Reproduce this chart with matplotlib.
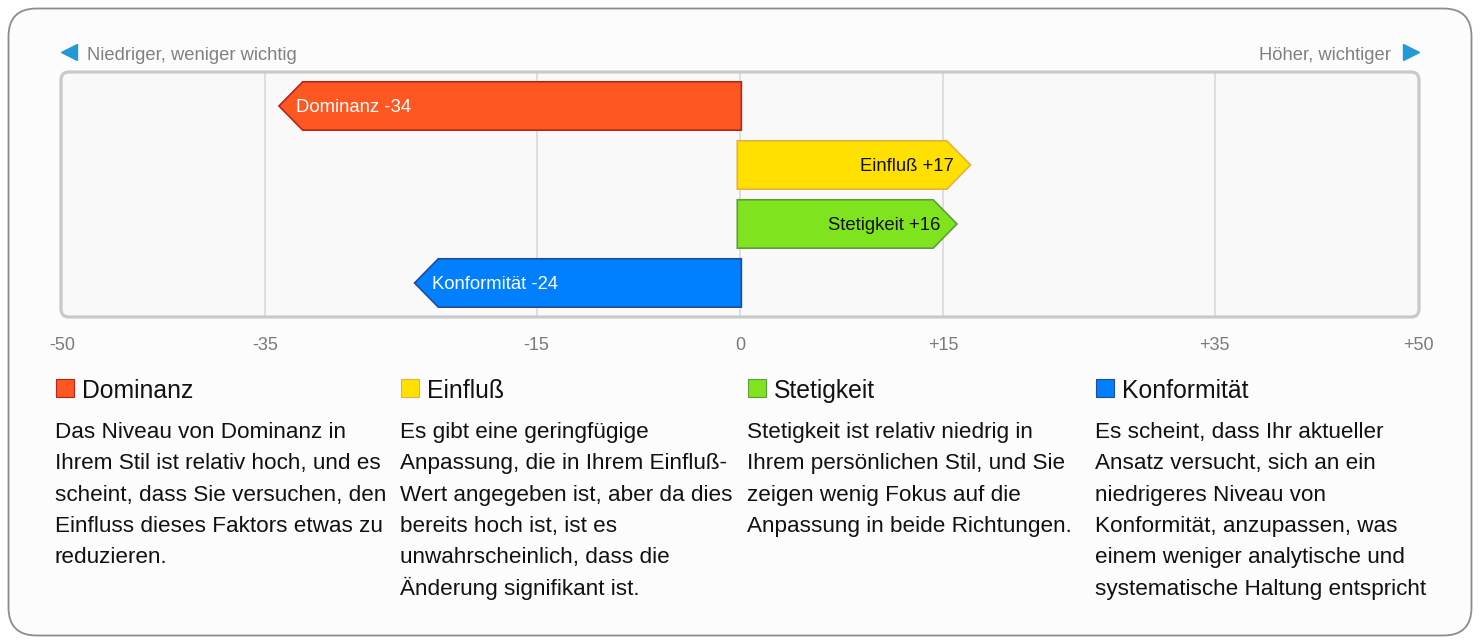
import matplotlib
matplotlib.use("Agg")
import matplotlib.pyplot as plt
from matplotlib.patches import FancyBboxPatch, Polygon, Rectangle

plt.rcParams['font.family'] = ['Liberation Sans', 'DejaVu Sans']

# ---------------- data ----------------
categories = ["Dominanz", "Einfluß", "Stetigkeit", "Konformität"]
values = [-34, 17, 16, -24]
fill_colors = ["#FF5722", "#FFE000", "#7FE41D", "#0080FF"]
edge_colors = ["#B3261A", "#E9B13C", "#5E9E3C", "#1F4C9C"]
label_colors = ["white", "#111111", "#111111", "white"]
tick_values = [-50, -35, -15, 0, 15, 35, 50]
tick_labels = ["-50", "-35", "-15", "0", "+15", "+35", "+50"]
grid_values = [-35, -15, 0, 15, 35]
left_caption = "Niedriger, weniger wichtig"
right_caption = "Höher, wichtiger"
descriptions = [
    ["Das Niveau von Dominanz in", "Ihrem Stil ist relativ hoch, und es",
     "scheint, dass Sie versuchen, den", "Einfluss dieses Faktors etwas zu",
     "reduzieren."],
    ["Es gibt eine geringfügige", "Anpassung, die in Ihrem Einfluß-",
     "Wert angegeben ist, aber da dies", "bereits hoch ist, ist es",
     "unwahrscheinlich, dass die", "Änderung signifikant ist."],
    ["Stetigkeit ist relativ niedrig in", "Ihrem persönlichen Stil, und Sie",
     "zeigen wenig Fokus auf die", "Anpassung in beide Richtungen."],
    ["Es scheint, dass Ihr aktueller", "Ansatz versucht, sich an ein",
     "niedrigeres Niveau von", "Konformität, anzupassen, was",
     "einem weniger analytische und", "systematische Haltung entspricht"],
]

W, H = 1480, 644
fig = plt.figure(figsize=(W / 100, H / 100), dpi=100)
fig.patch.set_facecolor("white")

# background axes in pixel coordinates
bg = fig.add_axes([0, 0, 1, 1], zorder=0)
bg.set_xlim(0, W)
bg.set_ylim(H, 0)
bg.axis("off")
bg.add_patch(FancyBboxPatch((8.5, 8.5), 1463, 627, boxstyle="round,pad=0,rounding_size=28",
                            facecolor="#fcfcfc", edgecolor="#8c8c8c", linewidth=1.3))
PL, PR, PT, PB = 61, 1419, 72, 317
bg.add_patch(FancyBboxPatch((PL, PT), PR - PL, PB - PT, boxstyle="round,pad=0,rounding_size=8",
                            facecolor="#f9f9f9", edgecolor="none"))

# main axes
ax = fig.add_axes([62 / W, 1 - 316 / H, (1418 - 62) / W, (316 - 72) / H], zorder=1)
ax.set_facecolor("none")
ax.set_xlim(-50, 50)
ax.set_ylim(3.56, -0.576)
for s in ax.spines.values():
    s.set_visible(False)
ax.set_yticks([])
ax.set_xticks(tick_values)
ax.set_xticklabels(tick_labels)
ax.tick_params(axis="x", length=0, pad=15, labelsize=13, labelcolor="#7a7a7a")
for g in grid_values:
    ax.axvline(g, color="#d9d9d9", linewidth=1.2, zorder=1)

half_h = 0.41
head = 1.75
for i, (cat, v) in enumerate(zip(categories, values)):
    sgn = 1 if v > 0 else -1
    base = -0.2 if v > 0 else 0.1
    pts = [(base, i - half_h), (v - sgn * head, i - half_h), (v, i),
           (v - sgn * head, i + half_h), (base, i + half_h)]
    ax.add_patch(Polygon(pts, closed=True, facecolor=fill_colors[i],
                         edgecolor=edge_colors[i], linewidth=1.2, zorder=3))
    lbl = f"{cat} {'+' if v > 0 else ''}{v}"
    ax.text(v - sgn * 1.25, i + 0.1, lbl, ha="right" if v > 0 else "left",
            va="baseline", fontsize=13.3, color=label_colors[i], zorder=4)

# overlay axes for border and texts
ov = fig.add_axes([0, 0, 1, 1], zorder=2)
ov.set_xlim(0, W)
ov.set_ylim(H, 0)
ov.axis("off")
ov.set_facecolor("none")
ov.add_patch(FancyBboxPatch((PL, PT), PR - PL, PB - PT, boxstyle="round,pad=0,rounding_size=8",
                            facecolor="none", edgecolor="#c9c9c9", linewidth=2.3))

ov.plot([69], [52], marker="<", markersize=11, color="#2299D6", linestyle="none")
ov.text(87, 60, left_caption, ha="left", va="baseline", fontsize=13.2, color="#808080")
ov.plot([1411], [52], marker=">", markersize=11, color="#2299D6", linestyle="none")
ov.text(1391, 60, right_caption, ha="right", va="baseline", fontsize=13.2, color="#808080")

col_x = [56, 401, 748, 1096]
for i, cat in enumerate(categories):
    x0 = col_x[i]
    ov.add_patch(Rectangle((x0, 379), 18, 18, facecolor=fill_colors[i],
                           edgecolor=edge_colors[i], linewidth=0.8))
    ov.text(x0 + 26, 398, cat, ha="left", va="baseline", fontsize=17.8, color="#111111")
    for j, line in enumerate(descriptions[i]):
        ov.text(x0 - 1, 438 + j * 31.3, line, ha="left", va="baseline",
                fontsize=16.2, color="#111111")

fig.savefig("out.png", dpi=100, facecolor="white")
